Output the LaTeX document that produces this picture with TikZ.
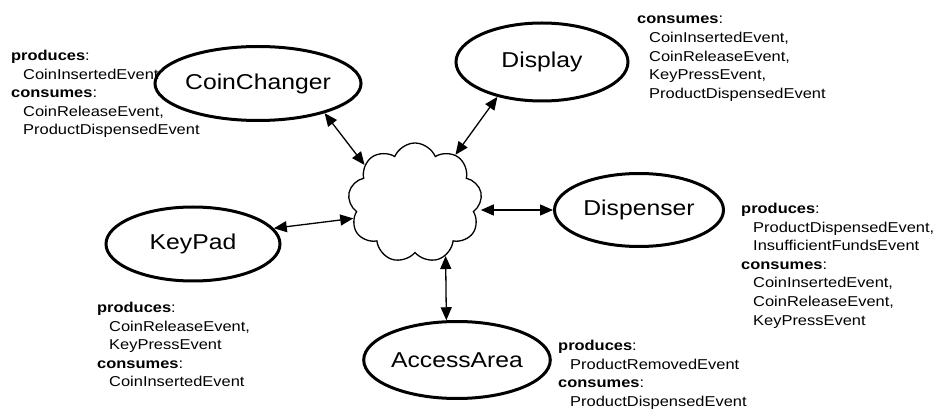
\documentclass[tikz,border=0pt]{standalone}
\usepackage{fontspec}
\setmainfont[FakeStretch=1.15]{Liberation Sans}
\usetikzlibrary{shapes.geometric,shapes.symbols,arrows.meta}
\tikzset{
  comp/.style={ellipse,draw,line width=3pt,inner sep=0pt,font=\fontsize{21.5pt}{24pt}\selectfont},
  info/.style={anchor=north west,inner sep=0pt,align=left,font=\fontsize{14.3pt}{18.6pt}\selectfont},
  link/.style={line width=1.3pt,{Triangle[length=13pt,width=11pt]}-{Triangle[length=13pt,width=11pt]}},
}
\newcommand{\ind}{\hspace*{12pt}}
\begin{document}
\begin{tikzpicture}[x=1pt,y=-1pt]
\useasboundingbox (0,0) rectangle (936,411);
\node[comp,minimum width=173pt,minimum height=74pt] (cc) at (258,83.5) {CoinChanger};
\node[comp,minimum width=172pt,minimum height=78pt] (dp) at (542,62) {Display};
\node[comp,minimum width=169pt,minimum height=73pt] (ds) at (639,210) {Dispenser};
\node[comp,minimum width=174pt,minimum height=74pt] (kp) at (193,244) {KeyPad};
\node[comp,minimum width=164pt,minimum height=77pt] (aa) at (457,360) {AccessArea};
\node[cloud,draw,line width=1.3pt,cloud puffs=9,cloud puff arc=135,aspect=1.1,minimum width=134pt,minimum height=120pt,inner sep=0pt] (cl) at (415,203) {};

\draw[link] (cc.-24) -- (cl.143);
\draw[link] (dp.-142) -- (cl.50);
\draw[link] (kp.11) -- (cl.194);
\draw[link] (ds.west -| cl.east) -- (ds.west);
\draw[link] (cl.-60) -- (aa.105);

\node[info] (ccinfo) at (11,50) {\textbf{produces}:\\\ind CoinInsertedEvent\\\textbf{consumes}:\\\ind CoinReleaseEvent,\\\ind ProductDispensedEvent};
\node[info] (dpinfo) at (637,16) {\textbf{consumes}:\\\ind CoinInsertedEvent,\\\ind CoinReleaseEvent,\\\ind KeyPressEvent,\\\ind ProductDispensedEvent};
\node[info] (dsinfo) at (741,203) {\textbf{produces}:\\\ind ProductDispensedEvent,\\\ind InsufficientFundsEvent\\\textbf{consumes}:\\\ind CoinInsertedEvent,\\\ind CoinReleaseEvent,\\\ind KeyPressEvent};
\node[info] (kpinfo) at (97,302) {\textbf{produces}:\\\ind CoinReleaseEvent,\\\ind KeyPressEvent\\\textbf{consumes}:\\\ind CoinInsertedEvent};
\node[info] (aainfo) at (558,340) {\textbf{produces}:\\\ind ProductRemovedEvent\\\textbf{consumes}:\\\ind ProductDispensedEvent};
\end{tikzpicture}
\end{document}
